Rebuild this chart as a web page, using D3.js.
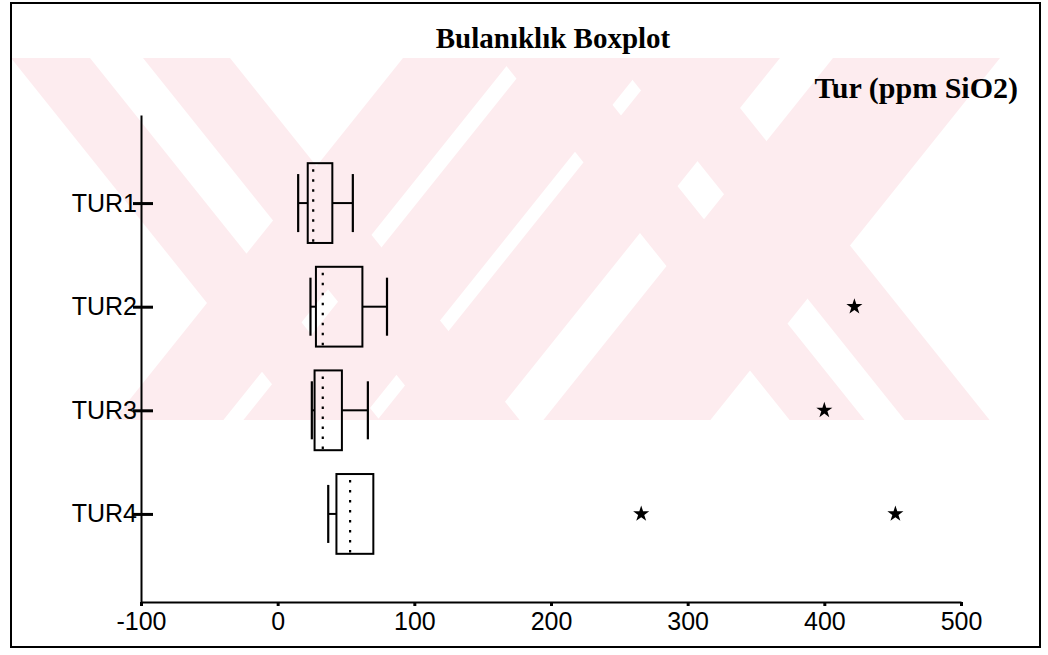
<!DOCTYPE html>
<html>
<head>
<meta charset="utf-8">
<script src="https://cdn.jsdelivr.net/npm/d3@7/dist/d3.min.js"></script>
<style>
  html, body { margin: 0; padding: 0; background: #fff; }
  svg { display: block; }
</style>
</head>
<body>
<svg id="chart" width="1048" height="655"></svg>
<script>
// ---- data ----
const categories = ["TUR1", "TUR2", "TUR3", "TUR4"];
const whiskerLow = [15, 24, 25, 37];
const q1 = [22, 28, 27, 43];
const median = [26, 33, 33, 53];
const q3 = [40, 62, 47, 70];
const whiskerHigh = [55, 80, 66, 70];
const outliers = [[], [422], [400], [266, 452]];
const xTicks = [-100, 0, 100, 200, 300, 400, 500];
const titleText = "Bulanıklık Boxplot";
const unitText = "Tur (ppm SiO2)";

const svg = d3.select("#chart");

// ---- watermark (scan background) ----
const defs = svg.append("defs");
defs.append("clipPath").attr("id", "wmclip")
  .append("rect").attr("x", 11).attr("y", 58).attr("width", 990).attr("height", 362);
const wmg = svg.append("g").attr("clip-path", "url(#wmclip)");
const y0 = 58, y1 = 420, s = 0.8;
const back = [[11, 90], [143, 230], [500, 575], [615, 700]];
const fwd = [[403, 513], [533, 650], [667, 780], [833, 1000]];
function band(a, b, dir) {
  const d = dir * s * (y1 - y0);
  return [[a, y0], [b, y0], [b + d, y1], [a + d, y1]];
}
back.forEach(([a, b]) => wmg.append("polygon").attr("points", band(a, b, 1).join(" ")).attr("fill", "#fdecef"));
fwd.forEach(([a, b]) => wmg.append("polygon").attr("points", band(a, b, -1).join(" ")).attr("fill", "#fdecef"));

// ---- frame ----
svg.append("rect").attr("x", 11).attr("y", 3).attr("width", 1029).attr("height", 644)
  .attr("fill", "none").attr("stroke", "#000").attr("stroke-width", 2);

// ---- scales ----
const x = d3.scaleLinear().domain([-100, 500]).range([141, 961]);
const y = d3.scalePoint().domain(categories).range([115, 602]).padding(0.85);
const step = y.step();
const boxH = step * 0.77;
const capH = step * 0.56;

// ---- titles ----
svg.append("text").attr("x", 553).attr("y", 48).attr("text-anchor", "middle")
  .attr("font-family", "Liberation Serif, Times New Roman, serif").attr("font-weight", "bold")
  .attr("font-size", 29).text(titleText);
svg.append("text").attr("x", 1018).attr("y", 98).attr("text-anchor", "end")
  .attr("font-family", "Liberation Serif, Times New Roman, serif").attr("font-weight", "bold")
  .attr("font-size", 30).text(unitText);

// ---- axes ----
const xAxis = d3.axisBottom(x).tickValues(xTicks).tickSize(4).tickSizeOuter(0).tickPadding(6)
  .tickFormat(d => String(d));
const gx = svg.append("g").attr("transform", `translate(0,602)`).call(xAxis);
gx.select(".domain").attr("stroke", "#000").attr("stroke-width", 2);
gx.selectAll(".tick line").attr("stroke", "#000").attr("stroke-width", 3);
gx.selectAll(".tick text").attr("font-family", "Liberation Sans, Arial, sans-serif")
  .attr("font-size", 25).attr("fill", "#000");

const yAxis = d3.axisLeft(y).tickSize(8).tickSizeOuter(0).tickPadding(-4);
const gy = svg.append("g").attr("transform", `translate(141,0)`).call(yAxis);
gy.select(".domain").attr("stroke", "#000").attr("stroke-width", 2);
gy.selectAll(".tick line").attr("x1", 12).attr("stroke", "#000").attr("stroke-width", 3);
gy.selectAll(".tick text").attr("font-family", "Liberation Sans, Arial, sans-serif")
  .attr("font-size", 25).attr("fill", "#000");

// ---- boxes ----
const data = categories.map((c, i) => ({
  c, lo: whiskerLow[i], q1: q1[i], med: median[i], q3: q3[i], hi: whiskerHigh[i], out: outliers[i]
}));
const g = svg.append("g");
const items = g.selectAll("g.box").data(data).join("g").attr("class", "box");

// whisker stems
items.append("line").attr("x1", d => x(d.lo)).attr("x2", d => x(d.q1))
  .attr("y1", d => y(d.c)).attr("y2", d => y(d.c)).attr("stroke", "#000").attr("stroke-width", 2);
items.append("line").attr("x1", d => x(d.q3)).attr("x2", d => x(d.hi))
  .attr("y1", d => y(d.c)).attr("y2", d => y(d.c)).attr("stroke", "#000").attr("stroke-width", 2);
// caps
items.append("line").attr("x1", d => x(d.lo)).attr("x2", d => x(d.lo))
  .attr("y1", d => y(d.c) - capH / 2).attr("y2", d => y(d.c) + capH / 2)
  .attr("stroke", "#000").attr("stroke-width", 2.2);
items.filter(d => d.hi > d.q3).append("line").attr("x1", d => x(d.hi)).attr("x2", d => x(d.hi))
  .attr("y1", d => y(d.c) - capH / 2).attr("y2", d => y(d.c) + capH / 2)
  .attr("stroke", "#000").attr("stroke-width", 2.2);
// box
items.append("rect").attr("x", d => x(d.q1)).attr("width", d => x(d.q3) - x(d.q1))
  .attr("y", d => y(d.c) - boxH / 2).attr("height", boxH)
  .attr("fill", "none").attr("stroke", "#000").attr("stroke-width", 2);
// median (dotted)
items.append("line").attr("x1", d => x(d.med)).attr("x2", d => x(d.med))
  .attr("y1", d => y(d.c) - boxH / 2 + 6).attr("y2", d => y(d.c) + boxH / 2)
  .attr("stroke", "#000").attr("stroke-width", 2.2).attr("stroke-dasharray", "2.5,7.5");
// outliers
const star = d3.symbol().type(d3.symbolStar).size(80);
items.each(function (d) {
  d3.select(this).selectAll("path.out").data(d.out).join("path").attr("class", "out")
    .attr("d", star).attr("fill", "#000")
    .attr("transform", v => `translate(${x(v)},${y(d.c)})`);
});
</script>
</body>
</html>
